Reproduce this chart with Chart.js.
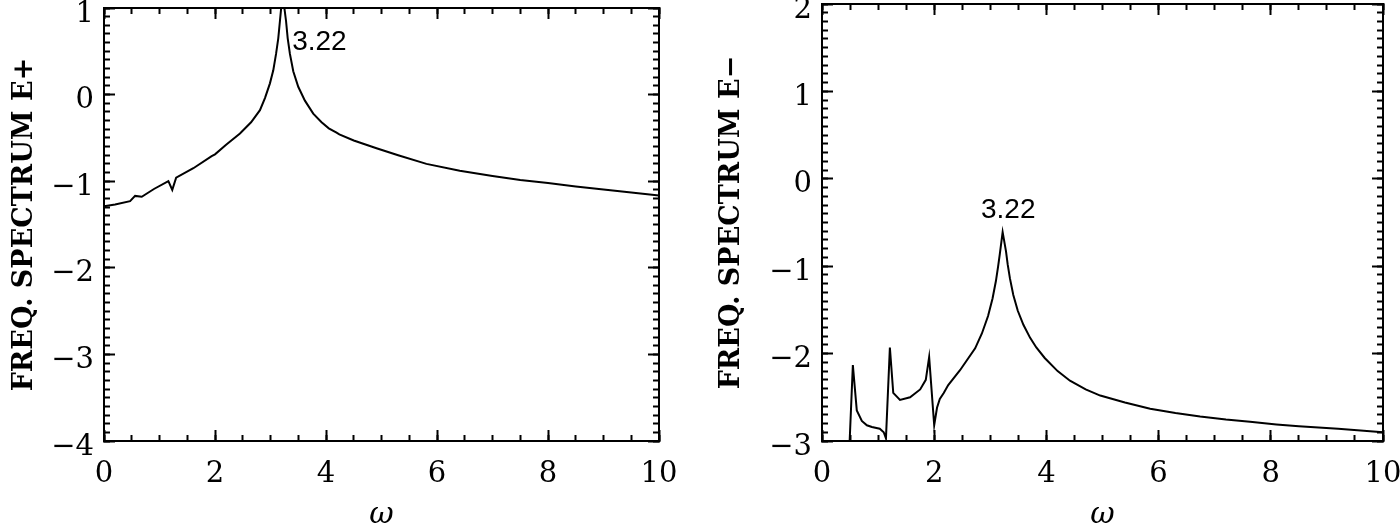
<!DOCTYPE html>
<html>
<head>
<meta charset="utf-8">
<title>Frequency spectra E+ / E-</title>
<script src="https://cdn.jsdelivr.net/npm/chart.js@4/dist/chart.umd.min.js"></script>
<style>
  body { margin: 0; background: #fff; }
  #wrap { position: relative; width: 1400px; height: 526px; }
  canvas { position: absolute; top: 0; }
  #c1 { left: 0; }
  #c2 { left: 700px; }
</style>
</head>
<body>
<div id="wrap">
  <canvas id="c1" width="700" height="526"></canvas>
  <canvas id="c2" width="700" height="526"></canvas>
</div>
<script>
// E+ spectrum (left panel)
const omegaPlus = [0, 0.2, 0.47, 0.56, 0.68, 0.9, 1.16, 1.23, 1.3, 1.61, 1.94, 2.0, 2.2, 2.45, 2.65, 2.81, 2.9, 2.99, 3.05, 3.1, 3.14, 3.17, 3.2, 3.22, 3.24, 3.28, 3.31, 3.35, 3.41, 3.5, 3.62, 3.77, 3.92, 4.05, 4.19, 4.24, 4.5, 4.91, 5.3, 5.81, 6.41, 7.0, 7.5, 8.0, 8.5, 9.0, 9.5, 10];
const specPlus  = [-1.29, -1.27, -1.23, -1.17, -1.18, -1.09, -1.0, -1.1, -0.96, -0.85, -0.71, -0.69, -0.58, -0.45, -0.32, -0.18, -0.04, 0.13, 0.28, 0.47, 0.65, 0.85, 1.05, 1.3, 1.05, 0.85, 0.65, 0.47, 0.27, 0.09, -0.07, -0.22, -0.32, -0.39, -0.44, -0.46, -0.53, -0.62, -0.7, -0.8, -0.88, -0.94, -0.985, -1.02, -1.06, -1.095, -1.13, -1.165];

// E- spectrum (right panel)
const omegaMinus = [0.48, 0.55, 0.62, 0.71, 0.8, 0.89, 1.03, 1.1, 1.14, 1.21, 1.27, 1.39, 1.57, 1.75, 1.85, 1.91, 2.0, 2.05, 2.1, 2.17, 2.25, 2.46, 2.73, 2.85, 2.96, 3.04, 3.1, 3.14, 3.17, 3.22, 3.28, 3.31, 3.35, 3.41, 3.49, 3.59, 3.71, 3.82, 3.97, 4.2, 4.42, 4.7, 4.96, 5.4, 5.85, 6.3, 6.74, 7.2, 7.63, 8.1, 8.5, 9.2, 10];
const specMinus  = [-3.2, -2.13, -2.65, -2.77, -2.82, -2.84, -2.86, -2.9, -2.97, -1.93, -2.45, -2.53, -2.5, -2.41, -2.3, -2.04, -2.82, -2.62, -2.52, -2.45, -2.36, -2.19, -1.94, -1.77, -1.57, -1.37, -1.17, -1.0, -0.86, -0.61, -0.83, -0.98, -1.14, -1.33, -1.51, -1.67, -1.82, -1.93, -2.05, -2.2, -2.31, -2.41, -2.48, -2.56, -2.63, -2.68, -2.72, -2.755, -2.78, -2.81, -2.83, -2.86, -2.9];

const peakText = '3.22';

function noPad(s) { s.paddingTop = 0; s.paddingBottom = 0; s.paddingLeft = 0; s.paddingRight = 0; }

// plain tick-only axis (inward ticks, no labels)
function tickAxis(pos, min, max, step, len, border) {
  return {
    type: 'linear', position: pos, min: min, max: max, weight: 0,
    border: { display: border, color: '#000', width: 2 },
    grid: { drawOnChartArea: false, drawTicks: true, tickLength: -len, tickColor: '#000', tickWidth: 2 },
    ticks: { display: false, stepSize: step },
    afterFit: function (s) { noPad(s); if (s.isHorizontal()) s.height = 0; else s.width = 0; }
  };
}

const minus = v => String(v).replace('-', '\u2212');

const peakLabel = {
  id: 'peakLabel',
  afterDatasetsDraw(chart, args, opts) {
    const ctx = chart.ctx;
    ctx.save();
    ctx.font = '28px "Liberation Sans", sans-serif';
    ctx.fillStyle = '#000';
    ctx.textAlign = opts.align;
    ctx.textBaseline = 'middle';
    ctx.fillText(opts.text, chart.scales.x.getPixelForValue(opts.x), chart.scales.y.getPixelForValue(opts.y));
    ctx.restore();
  }
};

function makeChart(id, xs, ys, p) {
  const tickFont = { family: 'DejaVu Serif', size: 29 };
  new Chart(document.getElementById(id), {
    type: 'line',
    data: {
      datasets: [{
        data: xs.map((x, i) => ({ x: x, y: ys[i] })),
        borderColor: '#000', borderWidth: 2, pointRadius: 0, tension: 0, fill: false
      }]
    },
    options: {
      responsive: false, animation: false,
      layout: { padding: { left: 0, right: p.right, top: p.top, bottom: 0 } },
      plugins: {
        legend: { display: false }, tooltip: { enabled: false },
        peakLabel: { text: peakText, x: p.labelX, y: p.labelY, align: p.labelAlign }
      },
      scales: {
        x: {
          type: 'linear', position: 'bottom', min: 0, max: 10, weight: 1,
          border: { display: true, color: '#000', width: 2 },
          grid: { drawOnChartArea: false, drawTicks: true, tickLength: -11, tickColor: '#000', tickWidth: 2 },
          ticks: { stepSize: 2, padding: 27, color: '#000', font: tickFont, maxRotation: 0, autoSkip: false },
          title: { display: true, text: 'ω', color: '#000', font: { family: 'DejaVu Serif', size: 30, style: 'italic' }, padding: { top: 0, bottom: -7 } },
          afterFit: function (s) { noPad(s); s.height = 85; }
        },
        xMinor: tickAxis('bottom', 0, 10, 0.5, 6, false),
        xTop: tickAxis('top', 0, 10, 2, 11, true),
        xTopMinor: tickAxis('top', 0, 10, 0.5, 6, false),
        y: {
          type: 'linear', position: 'left', min: p.ymin, max: p.ymax, weight: 1,
          border: { display: true, color: '#000', width: 2 },
          grid: { drawOnChartArea: false, drawTicks: true, tickLength: -11, tickColor: '#000', tickWidth: 2 },
          ticks: { stepSize: 1, padding: 21, labelOffset: 6, color: '#000', font: tickFont, autoSkip: false, callback: minus },
          title: { display: true, text: p.title, color: '#000', font: { family: 'DejaVu Serif', size: 27, weight: 'bold' }, padding: { top: p.titlePad, bottom: 0 } },
          afterFit: function (s) { noPad(s); s.width = p.yWidth; }
        },
        yMinor: tickAxis('left', p.ymin, p.ymax, 0.1, 6, false),
        yRight: tickAxis('right', p.ymin, p.ymax, 1, 11, true),
        yRightMinor: tickAxis('right', p.ymin, p.ymax, 0.1, 6, false)
      }
    },
    plugins: [peakLabel]
  });
}

makeChart('c1', omegaPlus, specPlus, {
  ymin: -4, ymax: 1, title: 'FREQ. SPECTRUM E+', yWidth: 104, right: 41, top: 8, titlePad: 9,
  labelX: 3.39, labelY: 0.6, labelAlign: 'left'
});
makeChart('c2', omegaMinus, specMinus, {
  ymin: -3, ymax: 2, title: 'FREQ. SPECTRUM E\u2212', yWidth: 122, right: 17, top: 4, titlePad: 16,
  labelX: 3.32, labelY: -0.36, labelAlign: 'center'
});
</script>
</body>
</html>
